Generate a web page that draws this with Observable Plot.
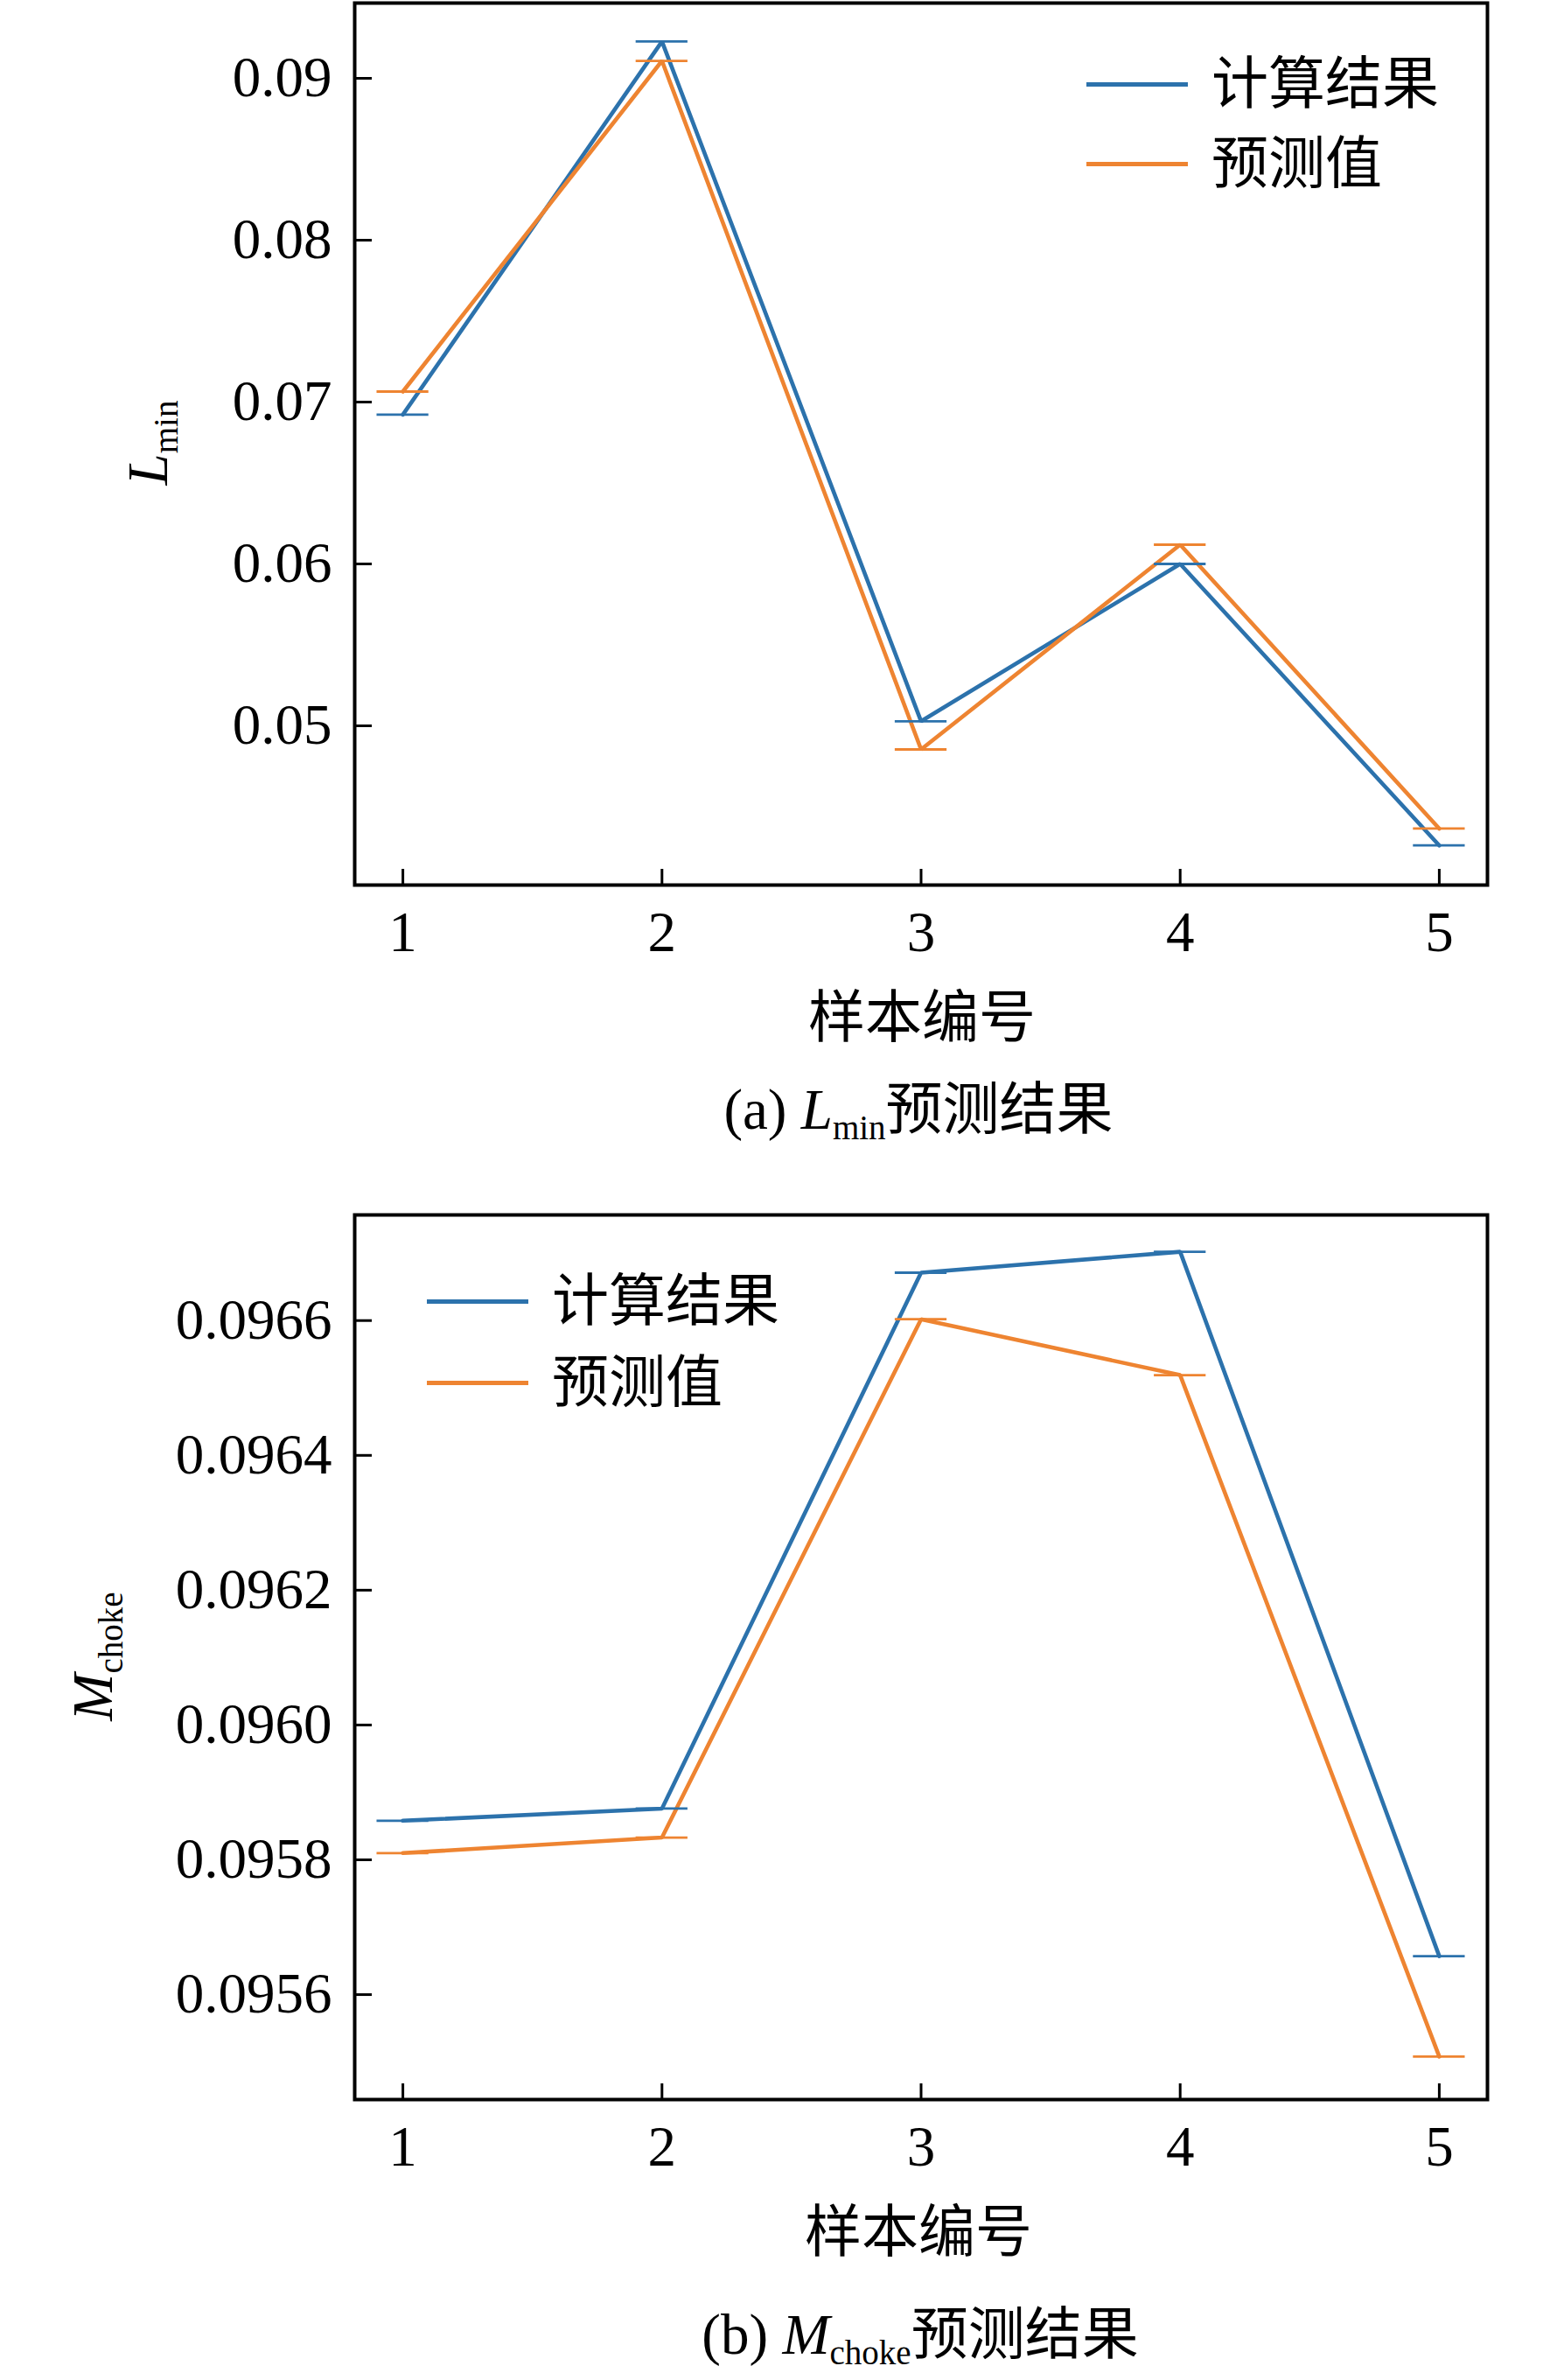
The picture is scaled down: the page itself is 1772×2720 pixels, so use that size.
<!DOCTYPE html>
<html>
<head>
<meta charset="utf-8">
<script src="https://cdn.jsdelivr.net/npm/d3@7"></script>
<script src="https://cdn.jsdelivr.net/npm/@observablehq/plot@0.6"></script>
<style>
  html, body { margin: 0; padding: 0; background: #fff; }
  #root { position: relative; width: 1772px; height: 2720px; overflow: hidden; background: #fff; }
  #root svg { position: absolute; left: 0; }
  .t { position: absolute; white-space: nowrap; line-height: 1; color: #000;
       font-family: "Liberation Serif", "Noto Sans CJK SC", serif; font-size: 65px; }
  .c { transform: translate(-50%, -50%); }
  .ylab { transform: translate(-50%, -50%) rotate(-90deg); }
  .sub { font-size: 39px; vertical-align: -12px; font-style: normal; }
  .leg { position: absolute; display: flex; align-items: center; }
  .sw { width: 116px; height: 5px; margin-right: 27px; }
</style>
</head>
<body>
<div id="root"></div>
<script>
// ---- data ----
const samples = [1, 2, 3, 4, 5];
const seriesNames = ["计算结果", "预测值"];
const lminCalc = [0.06922, 0.09228, 0.05028, 0.06000, 0.04261];
const lminPred = [0.07065, 0.09108, 0.04854, 0.06119, 0.04365];
const mchokeCalc = [0.095858, 0.095876, 0.096671, 0.096702, 0.095657];
const mchokePred = [0.095810, 0.095833, 0.096602, 0.096519, 0.095508];
const xTicks = [1, 2, 3, 4, 5];
const lminTicks = [0.05, 0.06, 0.07, 0.08, 0.09];
const mchokeTicks = [0.0956, 0.0958, 0.0960, 0.0962, 0.0964, 0.0966];
const colors = ["#2c72ac", "#ee8431"];

const root = document.getElementById("root");
const capHalf = 0.1;
const xDomain = [0.814, 5.186];

function panel({calc, pred, yDomain, yTicks, fmt, marginTop, height, top}) {
  const rows = [];
  samples.forEach((s, i) => rows.push({sample: s, value: calc[i], series: seriesNames[0]}));
  samples.forEach((s, i) => rows.push({sample: s, value: pred[i], series: seriesNames[1]}));
  const svg = Plot.plot({
    width: 1772,
    height,
    marginTop,
    marginBottom: 99,
    marginLeft: 405,
    marginRight: 72,
    x: {domain: xDomain, label: null},
    y: {domain: yDomain, label: null},
    color: {domain: seriesNames, range: colors},
    style: {background: "transparent", color: "#000", fontFamily: "'Liberation Serif', serif", overflow: "visible"},
    marks: [
      Plot.line(rows, {x: "sample", y: "value", stroke: "series", z: "series", strokeWidth: 4.6, strokeLinejoin: "miter"}),
      Plot.ruleY(rows, {y: "value", x1: d => d.sample - capHalf, x2: d => d.sample + capHalf, stroke: "series", strokeWidth: 2.8}),
      Plot.axisX(xTicks, {anchor: "bottom", tickSize: -18, tickPadding: 47, strokeWidth: 3, fontSize: 65, label: null, tickFormat: d => String(d)}),
      Plot.axisY(yTicks, {anchor: "left", tickSize: -20, tickPadding: 46, strokeWidth: 3, fontSize: 65, label: null, tickFormat: d3.format(fmt)}),
      Plot.frame({stroke: "#000", strokeWidth: 4})
    ]
  });
  svg.style.top = top + "px";
  root.appendChild(svg);
}

panel({calc: lminCalc, pred: lminPred, yDomain: [0.040162, 0.094649], yTicks: lminTicks, fmt: ".2f", marginTop: 3, height: 1110, top: 0});
panel({calc: mchokeCalc, pred: mchokePred, yDomain: [0.0954443, 0.0967567], yTicks: mchokeTicks, fmt: ".4f", marginTop: 10, height: 1120, top: 1378});

function addHTML(html) { root.insertAdjacentHTML("beforeend", html); }

// axis labels & captions
addHTML(`<div class="t ylab" style="left:173px;top:506px"><i>L</i><span class="sub">min</span></div>`);
addHTML(`<div class="t c" style="left:1054px;top:1163px">样本编号</div>`);
addHTML(`<div class="t c" style="left:1050px;top:1272px">(a) <i>L</i><span class="sub">min</span>预测结果</div>`);
addHTML(`<div class="t ylab" style="left:110px;top:1893px"><i>M</i><span class="sub">choke</span></div>`);
addHTML(`<div class="t c" style="left:1050px;top:2551px">样本编号</div>`);
addHTML(`<div class="t c" style="left:1052px;top:2672px">(b) <i>M</i><span class="sub">choke</span>预测结果</div>`);

// legends
function legend(x, y0, y1) {
  addHTML(`<div class="leg" style="left:${x}px;top:${y0 - 32}px;height:64px"><div class="sw" style="background:${colors[0]}"></div><span class="t" style="position:static">${seriesNames[0]}</span></div>`);
  addHTML(`<div class="leg" style="left:${x}px;top:${y1 - 32}px;height:64px"><div class="sw" style="background:${colors[1]}"></div><span class="t" style="position:static">${seriesNames[1]}</span></div>`);
}
legend(1242, 96, 187);
legend(488, 1487, 1580);
</script>
</body>
</html>
